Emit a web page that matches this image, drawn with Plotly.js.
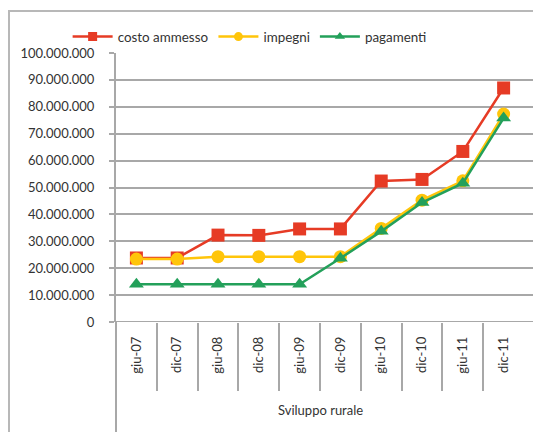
<!DOCTYPE html>
<html><head><meta charset="utf-8">
<script src="https://cdn.plot.ly/plotly-3.0.1.min.js"></script>
<style>
html,body{margin:0;padding:0;background:#fff;}
#frame{position:absolute;left:8px;top:10px;width:600px;height:500px;border:2px solid #b8b8b8;box-sizing:border-box;}
#chart{position:absolute;left:0;top:0;width:533px;height:432px;}
</style></head>
<body>
<div id="frame"></div>
<div id="chart"></div>
<script>
const categories = ["giu-07","dic-07","giu-08","dic-08","giu-09","dic-09","giu-10","dic-10","giu-11","dic-11"];
const costoAmmesso = [23800000,23800000,32300000,32200000,34600000,34600000,52400000,53000000,63400000,87000000];
const impegni = [23400000,23400000,24300000,24300000,24300000,24300000,34800000,45300000,52500000,77300000];
const pagamenti = [14000000,14000000,14000000,14000000,14000000,23700000,33700000,44400000,51600000,75800000];
const seriesNames = ["costo ammesso","impegni","pagamenti"];
const seriesColors = ['#e63b25','#ffc50a','#23a05a'];
const seriesSymbols = ['square','circle','triangle-up'];
const yTicks = [0,10000000,20000000,30000000,40000000,50000000,60000000,70000000,80000000,90000000,100000000];
const xTitle = "Sviluppo rurale";

const idx = categories.map((c,i)=>i);
const fontFam = "Lato, 'Open Sans', sans-serif";
const data = [costoAmmesso, impegni, pagamenti];
const traces = data.map((vals,k)=>({
  x: idx, y: vals, name: seriesNames[k], mode:'lines+markers', showlegend:false,
  line:{color:seriesColors[k], width:2.5}, marker:{symbol:seriesSymbols[k], size:13, color:seriesColors[k]}
}));
// legend entries (smaller symbols as in reference)
data.forEach((vals,k)=>traces.push({
  x:[null], y:[null], name: seriesNames[k], mode:'lines+markers', showlegend:true,
  line:{color:seriesColors[k], width:2.5}, marker:{symbol:seriesSymbols[k], size:9, color:seriesColors[k]}
}));
const bounds = idx.slice(1).map(i=>i-0.5);
const layout = {
  width:533, height:432,
  margin:{l:116, r:0, t:53, b:110},
  paper_bgcolor:'rgba(0,0,0,0)', plot_bgcolor:'rgba(0,0,0,0)',
  separators:',.',
  font:{family:fontFam, size:13, color:'#333'},
  showlegend:true,
  legend:{orientation:'h', x:-0.116, xanchor:'left', y:1.06, yanchor:'middle', itemwidth:40,
          font:{family:fontFam, size:13.4, color:'#333'}, itemclick:false, traceorder:'normal'},
  xaxis:{type:'linear', range:[-0.5, 9.72], tickvals: idx, ticktext: categories,
         tickangle:-90, showgrid:false, zeroline:false, showline:false, ticks:'',
         ticklabelstandoff:11, tickfont:{family:fontFam, size:13, color:'#333'}, fixedrange:true},
  xaxis2:{type:'linear', overlaying:'x', anchor:'y', side:'bottom', range:[-0.5, 9.72],
          tickvals: bounds, showticklabels:false, ticks:'outside', ticklen:68, tickwidth:2,
          tickcolor:'#a8a8a8', showgrid:false, zeroline:false, showline:false},
  yaxis:{range:[0,100000000], tickvals:yTicks, tickformat:',d', showgrid:true,
         gridcolor:'#a8a8a8', gridwidth:2, zeroline:false, showline:true, linecolor:'#a8a8a8',
         linewidth:2, ticks:'outside', ticklen:5, tickwidth:2, tickcolor:'#a8a8a8',
         ticklabelstandoff:12, tickfont:{family:fontFam, size:13, color:'#333'}},
  shapes:[
    {type:'line', xref:'paper', yref:'paper', x0:0, x1:0, y0:0, y1:-0.45, line:{color:'#a8a8a8', width:2}},
    {type:'line', xref:'paper', yref:'y', x0:0, x1:1, y0:0, y1:0, line:{color:'#a8a8a8', width:2}}
  ],
  annotations:[
    {text:xTitle, xref:'paper', yref:'paper', x:0.49, y:-0.365, showarrow:false,
     font:{family:fontFam, size:13, color:'#333'}}
  ]
};
traces.push({x:[0], y:[null], xaxis:'x2', showlegend:false, hoverinfo:'skip'});
Plotly.newPlot('chart', traces, layout, {displayModeBar:false, staticPlot:true});
</script>
</body></html>
